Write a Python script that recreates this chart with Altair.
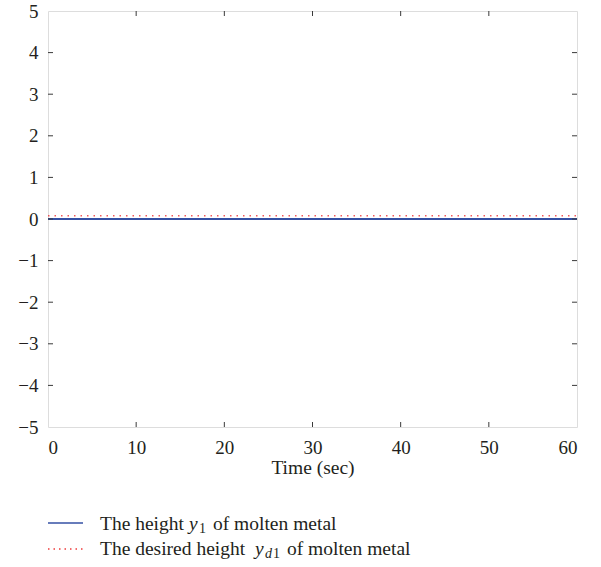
import altair as alt
import pandas as pd

time = [0, 10, 20, 30, 40, 50, 60]
y1 = [0.0, 0.0, 0.0, 0.0, 0.0, 0.0, 0.0]
yd1 = [0.08, 0.08, 0.08, 0.08, 0.08, 0.08, 0.08]
x_ticks = [10, 20, 30, 40, 50]
y_ticks = [-4, -3, -2, -1, 0, 1, 2, 3, 4]

W, H = 529, 416
FONT = "Liberation Serif"
TXT = "#231f20"
FRAME = "#3a3a3a"
BLUE = "#3551a4"
RED = "#ee3b3b"

df = pd.DataFrame({"t": time, "y1": y1, "yd1": yd1})
dx = pd.DataFrame({"v": x_ticks})
dy = pd.DataFrame({"v": y_ticks})

xs = alt.Scale(domain=[0, 60], nice=False)
ys = alt.Scale(domain=[-5, 5], nice=False)

xaxis = alt.Axis(values=[0, 10, 20, 30, 40, 50, 60], domain=False, ticks=False, grid=False,
                 labelFont=FONT, labelFontSize=19, labelColor=TXT, labelPadding=11,
                 title="Time (sec)", titleFont=FONT, titleFontSize=19.5, titleFontWeight="normal",
                 titleColor=TXT, titlePadding=1)
yaxis = alt.Axis(values=[-5, -4, -3, -2, -1, 0, 1, 2, 3, 4, 5], domain=False, ticks=False, grid=False,
                 labelFont=FONT, labelFontSize=19, labelColor=TXT, labelPadding=10, title=None)

base = alt.Chart(df)
blue = base.mark_line(color=BLUE, strokeWidth=2).encode(
    x=alt.X("t:Q", scale=xs, axis=xaxis), y=alt.Y("y1:Q", scale=ys, axis=yaxis))
red = base.mark_line(color=RED, strokeWidth=1.5, strokeDash=[1.5, 5], opacity=0.85).encode(
    x=alt.X("t:Q", scale=xs), y=alt.Y("yd1:Q", scale=ys))

tb = alt.Chart(dx).mark_rule(color=FRAME, strokeWidth=1).encode(
    x=alt.X("v:Q", scale=xs), y=alt.value(H), y2=alt.value(H - 5))
tt = alt.Chart(dx).mark_rule(color=FRAME, strokeWidth=1).encode(
    x=alt.X("v:Q", scale=xs), y=alt.value(0), y2=alt.value(5))
tl = alt.Chart(dy).mark_rule(color=FRAME, strokeWidth=1).encode(
    y=alt.Y("v:Q", scale=ys), x=alt.value(0), x2=alt.value(5))
tr = alt.Chart(dy).mark_rule(color=FRAME, strokeWidth=1).encode(
    y=alt.Y("v:Q", scale=ys), x=alt.value(W), x2=alt.value(W - 5))

# legend
one = pd.DataFrame({"a": [0]})
def txt(s, x, y, size=19.5, style="normal"):
    return alt.Chart(one).mark_text(text=s, font=FONT, fontSize=size, fontStyle=style,
                                    color=TXT, align="left", baseline="alphabetic").encode(
        x=alt.value(x), y=alt.value(y))

leg1 = alt.Chart(one).mark_rule(color=BLUE, strokeWidth=1.3).encode(
    x=alt.value(0), x2=alt.value(35), y=alt.value(512))
leg2 = alt.Chart(one).mark_rule(color=RED, strokeWidth=1.3, strokeDash=[1.5, 4]).encode(
    x=alt.value(0), x2=alt.value(35), y=alt.value(538))

texts = [
    txt("The height", 52, 519),
    txt("y", 141, 519, style="italic"),
    txt("1", 151, 522, size=14),
    txt("of molten metal", 165, 519),
    txt("The desired height", 52, 544),
    txt("y", 207, 544, style="italic"),
    txt("d", 217, 547, size=14, style="italic"),
    txt("1", 225, 547, size=14),
    txt("of molten metal", 239, 544),
]

chart = alt.layer(blue, red, tb, tt, tl, tr, leg1, leg2, *texts).properties(
    width=W, height=H,
    autosize=alt.AutoSizeParams(type="none"),
    padding={"left": 48, "top": 11, "right": 24, "bottom": 140},
).configure_view(stroke=FRAME, strokeWidth=1.3).configure(background="white")

chart.save("out.html", embed_options={"renderer": "svg", "actions": False})
